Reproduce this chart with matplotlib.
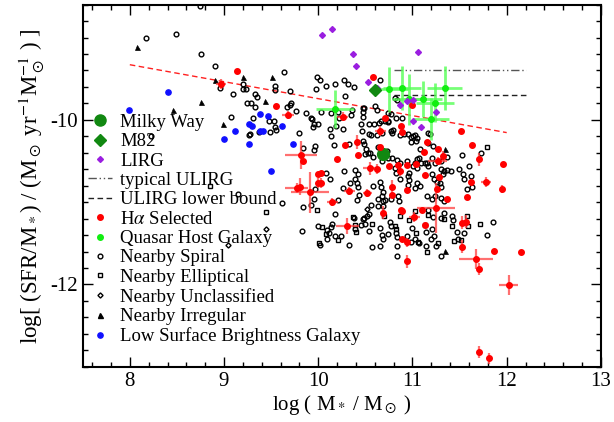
import matplotlib
matplotlib.use("Agg")
import matplotlib.pyplot as plt
from matplotlib.lines import Line2D
from matplotlib.ticker import MultipleLocator
import numpy as np

plt.rcParams['font.family'] = ['Liberation Serif', 'DejaVu Serif']
plt.rcParams['mathtext.fontset'] = 'stix'
plt.rcParams['axes.unicode_minus'] = False

# ---------------- data ----------------
mw_x, mw_y = [10.69], [-10.41]
m82_x, m82_y = [10.60], [-9.64]

lirg_x = [10.04, 10.15, 10.37, 10.40, 10.53, 10.62, 11.06, 10.87, 10.94, 11.01, 11.01, 11.09, 11.25]
lirg_y = [-8.97, -8.89, -9.20, -9.35, -9.54, -9.61, -9.17, -9.82, -9.77, -9.76, -10.01, -10.09, -9.91]

ulirg_typ_x = [10.8, 12.2]
ulirg_typ_y = [-9.40, -9.40]
ulirg_low_x = [10.8, 12.2]
ulirg_low_y = [-9.70, -9.70]

fit_x = [8.0, 12.0]
fit_y = [-9.33, -10.155]

ha_x = [9.14, 8.97, 9.55, 9.68, 10.26, 10.28, 10.58, 11.00, 11.52, 11.63, 10.65, 10.41, 10.71, 10.66,
        10.89, 10.88, 11.15, 11.12, 11.27, 11.32, 11.27, 9.84, 9.82, 10.20, 10.42, 10.55, 10.62, 10.75,
        10.85, 10.87, 10.94, 11.04, 10.00, 10.03, 10.00, 10.03, 9.91, 9.77, 9.81, 10.15, 10.33, 10.52,
        10.78, 10.78, 10.69, 10.88, 11.02, 11.25, 11.37, 11.26, 10.31, 11.13, 10.94, 10.89, 10.94, 10.94,
        11.28, 11.10, 11.13, 11.53, 11.57, 11.53, 11.67, 11.71, 11.58, 11.62, 11.71, 11.78, 11.95, 11.96,
        11.86, 12.15, 12.02, 11.71, 11.81, 10.89]
ha_y = [-9.41, -9.56, -9.83, -9.94, -9.96, -10.31, -9.48, -9.82, -10.14, -10.30, -10.33, -10.27, -9.98, -10.14,
        -10.15, -10.07, -10.27, -10.39, -10.35, -10.44, -10.50, -10.50, -10.43, -10.48, -10.43, -10.59, -10.60, -10.56,
        -10.55, -10.62, -10.55, -10.54, -10.66, -10.64, -10.77, -10.77, -10.88, -10.83, -10.81, -11.00, -10.86, -10.89,
        -10.81, -10.91, -11.13, -11.10, -11.18, -11.07, -10.96, -10.84, -11.29, -10.67, -10.85, -11.45, -11.49, -11.72,
        -10.69, -11.10, -11.28, -11.25, -11.24, -11.54, -11.69, -11.81, -10.94, -10.75, -10.48, -10.76, -10.84, -10.54,
        -11.59, -11.61, -12.01, -12.82, -12.90, -11.11]
ha_xerr = [0, 0.05, 0, 0.06, 0.06, 0, 0, 0, 0, 0, 0, 0, 0, 0.06,
           0, 0, 0, 0, 0, 0, 0.10, 0, 0.17, 0, 0, 0.07, 0, 0,
           0, 0, 0, 0, 0, 0, 0, 0, 0.20, 0.12, 0, 0.06, 0.06, 0.05,
           0, 0, 0, 0, 0.06, 0.20, 0, 0, 0.12, 0, 0, 0, 0, 0,
           0, 0, 0, 0, 0, 0, 0.18, 0, 0, 0, 0, 0.05, 0, 0,
           0, 0, 0.10, 0, 0, 0]
ha_yerr = [0, 0.06, 0, 0.05, 0.06, 0, 0, 0, 0, 0, 0, 0.08, 0, 0.06,
           0, 0, 0, 0, 0, 0.06, 0.05, 0, 0.17, 0, 0, 0.08, 0.06, 0,
           0, 0.06, 0, 0, 0, 0, 0.06, 0.06, 0.25, 0.06, 0.10, 0.05, 0.05, 0.05,
           0.08, 0, 0.08, 0, 0.06, 0.30, 0, 0, 0.10, 0, 0, 0, 0.06, 0.08,
           0, 0, 0, 0.08, 0.08, 0.08, 0.12, 0.07, 0, 0, 0.08, 0.06, 0.05, 0,
           0, 0, 0.12, 0.07, 0.07, 0]

qso_x = [10.18, 10.75, 10.89, 10.96, 11.11, 11.24, 11.34, 11.20]
qso_y = [-9.87, -9.63, -9.61, -9.75, -9.75, -9.79, -9.61, -9.99]
qso_xerr = [0.20, 0.20, 0.20, 0.18, 0.20, 0.20, 0.19, 0.19]
qso_yerr = [0.23, 0.27, 0.27, 0.31, 0.22, 0.24, 0.27, 0.26]

sp_x = [8.74, 8.17, 8.49, 8.76, 8.90, 9.64, 9.99, 10.27, 10.32, 10.08, 9.98, 10.28, 8.96, 9.20, 9.20, 9.23,
        9.10, 9.54, 9.54, 9.70, 9.33, 9.35, 9.24, 9.29, 9.33, 9.71, 9.67, 9.76, 9.87, 9.93, 10.03, 9.94,
        9.07, 9.48, 9.53, 9.54, 9.55, 9.27, 9.37, 9.49, 9.80, 10.19, 10.13, 10.22, 10.26, 10.21, 8.22, 10.33,
        9.31, 9.28, 9.70, 9.92, 9.95, 10.08, 10.12, 9.97, 9.95, 9.92, 9.84, 9.61, 10.00, 10.09, 10.11, 9.83,
        9.15, 10.17, 9.97, 9.84, 10.35, 10.45, 10.48, 10.49, 10.54, 10.59, 10.64, 10.67, 10.71, 10.74, 10.77,
        10.54, 10.56, 10.62, 10.68, 10.47, 10.49, 10.51, 10.50, 10.53, 10.55, 10.63, 10.58, 10.73, 10.74, 10.78,
        10.68, 10.39, 10.42, 10.27, 10.34, 10.39, 10.41, 10.42, 10.58, 10.65, 10.67, 10.69, 10.63, 10.68, 10.71,
        10.69, 10.47, 10.49, 10.52, 10.54, 10.56, 10.50, 10.45, 10.39, 10.66, 10.68, 10.69, 10.76, 10.77, 10.74,
        10.82, 10.84, 10.84, 10.77, 10.85, 10.86, 10.81, 10.83, 10.87, 10.84, 10.87, 10.94, 10.96, 10.95, 10.96,
        11.01, 11.03, 11.05, 11.09, 11.05, 11.07, 11.13, 11.15, 11.17, 10.95, 11.03, 11.05, 11.08, 11.01, 11.03,
        11.05, 11.04, 10.87, 10.91, 10.95, 10.98, 10.98, 11.08, 11.17, 11.17, 11.19, 11.22, 11.21, 11.24, 11.30,
        11.33, 11.32, 11.37, 11.21, 11.23, 11.26, 11.29, 11.30, 11.15, 11.21, 11.24, 11.30, 11.33, 11.17, 11.22,
        11.30, 11.33, 11.14, 11.21, 11.23, 11.20, 11.25, 11.14, 11.00, 10.94, 10.98, 11.03, 11.07, 10.65, 10.33,
        10.13, 10.09, 10.02, 10.18, 10.24, 10.15, 10.21, 10.43, 10.18, 10.38, 10.41, 11.85, 11.79, 11.73, 11.53,
        11.60, 11.62, 11.58, 11.63, 11.49, 11.54, 11.55, 11.47, 11.55, 11.41, 11.42, 11.43, 11.48, 11.30, 10.84,
        10.57, 10.54, 10.26, 10.69, 10.63, 11.30, 11.37, 10.18, 10.38, 10.12, 10.36, 10.48, 10.48, 10.46, 10.65,
        10.62, 10.60, 10.74, 10.77, 10.74, 10.82, 10.89, 10.81, 10.84, 10.79, 10.78, 10.13, 9.95, 10.00, 10.02]
sp_y = [-8.62, -9.00, -8.96, -9.20, -9.35, -9.42, -9.48, -9.51, -9.57, -9.59, -9.63, -9.71, -9.61, -9.56, -9.63, -9.63,
        -9.68, -9.59, -9.64, -9.65, -9.69, -9.72, -9.79, -9.79, -9.84, -9.80, -9.84, -9.89, -9.92, -9.99, -9.90, -10.09,
        -9.96, -10.01, -10.01, -10.09, -10.12, -10.18, -10.15, -10.15, -10.16, -10.07, -10.20, -9.98, -10.11, -9.90, -10.20, -10.29,
        -9.98, -10.17, -9.82, -9.98, -10.37, -10.64, -10.72, -10.84, -10.96, -11.04, -11.06, -11.01, -11.29, -11.34, -11.37, -11.35,
        -10.90, -10.30, -10.32, -10.34, -9.94, -10.05, -9.90, -9.85, -10.05, -10.05, -10.04, -10.01, -10.01, -10.03, -10.13,
        -10.17, -10.19, -10.18, -10.16, -10.26, -10.29, -10.35, -10.41, -10.40, -10.40, -10.33, -10.45, -10.38, -10.46, -10.46,
        -10.50, -10.61, -10.66, -10.62, -10.77, -10.72, -10.77, -10.81, -10.80, -10.76, -10.81, -10.88, -10.96, -10.93, -10.97,
        -11.05, -11.20, -11.19, -11.17, -11.15, -11.03, -11.27, -11.28, -11.33, -11.32, -11.40, -11.45, -11.24, -11.29, -11.39,
        -11.37, -11.42, -11.53, -10.96, -10.93, -10.99, -10.59, -10.64, -10.53, -10.49, -10.72, -10.50, -10.64, -10.68, -10.73,
        -10.56, -10.52, -10.58, -10.52, -10.48, -10.46, -10.53, -10.52, -10.56, -10.79, -10.83, -10.77, -10.80, -10.20, -10.18,
        -10.22, -10.26, -10.18, -10.17, -10.17, -10.21, -10.27, -10.35, -10.28, -10.16, -10.17, -10.32, -10.46, -10.52, -10.60,
        -10.62, -10.66, -10.61, -10.66, -10.72, -10.75, -10.77, -10.81, -10.93, -10.96, -10.93, -10.95, -10.99, -11.09, -11.18,
        -11.19, -11.13, -11.36, -11.33, -11.41, -11.45, -11.53, -11.53, -11.31, -11.41, -11.49, -11.45, -11.50, -11.53, -11.52,
        -11.30, -11.45, -11.52, -11.41, -11.41, -11.27, -10.97, -10.91, -11.15, -11.19, -10.97, -11.24, -11.40, -10.40, -10.43,
        -10.56, -10.68, -10.84, -10.81, -10.60, -10.66, -10.72, -11.36, -11.37, -10.62, -11.17, -11.22, -11.45, -11.65, -11.65,
        -11.55, -11.35, -10.83, -10.99, -11.05, -10.50, -10.45, -9.57, -9.60, -10.11, -9.88, -9.86, -9.96, -10.13, -9.52,
        -9.88, -9.83, -9.92, -9.93, -10.01, -9.98, -9.98, -9.73, -9.76, -10.12, -10.16, -9.92, -10.05, -10.05, -9.52]

el_x = [8.85, 9.45, 10.01, 9.99, 10.04, 10.08, 10.21, 10.37, 10.39, 10.40, 10.57, 10.70, 10.81, 10.83, 10.87,
        10.96, 11.03, 11.06, 11.15, 11.04, 11.13, 11.27, 11.33, 11.42, 11.44, 11.52, 11.58, 11.59, 11.72, 11.16, 11.79]
el_y = [-10.80, -11.12, -11.50, -11.10, -11.30, -11.39, -11.46, -11.18, -11.28, -11.36, -11.26, -11.17, -11.29, -11.33, -11.17,
        -11.22, -11.11, -11.49, -11.60, -11.38, -11.28, -11.50, -11.21, -11.29, -11.47, -11.46, -11.17, -11.29, -11.26, -11.16, -10.33]

un_x = [9.45, 9.04, 10.52]
un_y = [-11.33, -11.52, -11.08]

irr_x = [8.08, 8.46, 8.90, 8.76, 9.20, 9.51, 8.99, 9.44, 11.34, 11.35]
irr_y = [-9.11, -9.88, -9.51, -9.78, -9.48, -9.48, -10.05, -9.77, -10.36, -11.59]

lsb_x = [7.995, 8.40, 9.38, 9.47, 9.26, 9.30, 9.12, 9.00, 9.38, 9.41, 9.26, 9.61, 9.73, 9.50]
lsb_y = [-9.88, -9.66, -9.93, -9.95, -10.05, -10.08, -10.14, -10.23, -10.14, -10.14, -10.29, -10.07, -10.29, -10.62]

# ---------------- plot ----------------
fig = plt.figure(figsize=(6.14, 4.22), dpi=100)
ax = fig.add_axes([0.1347, 0.131, 0.844, 0.858])

ax.plot(fit_x, fit_y, color='#ff2020', ls=(0, (4, 2.5)), lw=1.0, zorder=2)
ax.plot(ulirg_typ_x, ulirg_typ_y, color='#555555', ls=(0, (6, 2, 1, 2, 1, 2)), lw=1.0, zorder=2)
ax.plot(ulirg_low_x, ulirg_low_y, color='#222222', ls=(0, (4, 2.5)), lw=1.0, zorder=2)

ax.plot(sp_x, sp_y, ls='none', marker='o', ms=3.4, mfc='none', mec='black', mew=1.0, zorder=3)
ax.plot(el_x, el_y, ls='none', marker='s', ms=3.2, mfc='none', mec='black', mew=1.0, zorder=3)
ax.plot(un_x, un_y, ls='none', marker='D', ms=2.6, mfc='none', mec='black', mew=1.0, zorder=3)
ax.plot(irr_x, irr_y, ls='none', marker='^', ms=3.6, mfc='black', mec='black', mew=0.5, zorder=3)
ax.plot(lsb_x, lsb_y, ls='none', marker='o', ms=3.8, mfc='#1010ff', mec='#1010ff', zorder=3)

ax.errorbar(ha_x, ha_y, xerr=ha_xerr, yerr=ha_yerr, fmt='none', ecolor='#ff4040', elinewidth=1.6,
            alpha=0.75, capsize=0, zorder=4)
ax.plot(ha_x, ha_y, ls='none', marker='o', ms=4.0, mfc='#ff0000', mec='#ff0000', zorder=5)

ax.errorbar(qso_x, qso_y, xerr=qso_xerr, yerr=qso_yerr, fmt='none', ecolor='#55ff55', elinewidth=2.0,
            alpha=0.8, capsize=0, zorder=4)
ax.plot(qso_x, qso_y, ls='none', marker='o', ms=4.0, mfc='#11ee11', mec='#11ee11', zorder=5)

ax.plot(lirg_x, lirg_y, ls='none', marker='D', ms=3.0, mfc='#9a1ee0', mec='#9a1ee0', zorder=5)
ax.plot(mw_x, mw_y, ls='none', marker='o', ms=8.5, mfc='#118811', mec='#118811', zorder=4)
ax.plot(m82_x, m82_y, ls='none', marker='D', ms=6.5, mfc='#118811', mec='#118811', zorder=6)

ax.set_xlim(7.5, 13.0)
ax.set_ylim(-13.0, -8.6)
ax.xaxis.set_major_locator(MultipleLocator(1))
ax.xaxis.set_minor_locator(MultipleLocator(0.2))
ax.yaxis.set_major_locator(MultipleLocator(2))
ax.yaxis.set_minor_locator(MultipleLocator(0.2))
ax.tick_params(which='both', direction='in', top=True, right=True, labelsize=15, width=1.0)
ax.tick_params(which='major', length=7)
ax.tick_params(which='minor', length=3.5)
for s in ax.spines.values():
    s.set_linewidth(1.5)

ax.set_xlabel(r'log ( M$_*$ / M$_\odot$ )', fontsize=15, labelpad=2)
ax.set_ylabel(r'log[ (SFR/M$_*$) / (M$_\odot$ yr$^{-1}$M$_\odot^{-1}$ ) ]', fontsize=16.5, labelpad=3)

handles = [
    Line2D([], [], ls='none', marker='o', ms=8, mfc='#118811', mec='#118811'),
    Line2D([], [], ls='none', marker='D', ms=6, mfc='#118811', mec='#118811'),
    Line2D([], [], ls='none', marker='D', ms=3, mfc='#9a1ee0', mec='#9a1ee0'),
    Line2D([], [], color='#555555', ls=(0, (6, 2, 1, 2, 1, 2)), lw=1.0),
    Line2D([], [], color='#222222', ls=(0, (4, 2.5)), lw=1.0),
    Line2D([], [], ls='none', marker='o', ms=4, mfc='#ff0000', mec='#ff0000'),
    Line2D([], [], ls='none', marker='o', ms=4, mfc='#11ee11', mec='#11ee11'),
    Line2D([], [], ls='none', marker='o', ms=3.4, mfc='none', mec='black', mew=1.0),
    Line2D([], [], ls='none', marker='s', ms=3.2, mfc='none', mec='black', mew=1.0),
    Line2D([], [], ls='none', marker='D', ms=2.6, mfc='none', mec='black', mew=1.0),
    Line2D([], [], ls='none', marker='^', ms=3.6, mfc='black', mec='black'),
    Line2D([], [], ls='none', marker='o', ms=3.8, mfc='#1010ff', mec='#1010ff'),
]
labels = ['Milky Way', 'M82', 'LIRG', 'typical ULIRG', 'ULIRG lower bound', r'H$\alpha$ Selected',
          'Quasar Host Galaxy', 'Nearby Spiral', 'Nearby Elliptical', 'Nearby Unclassified',
          'Nearby Irregular', 'Low Surface Brightness Galaxy']
ax.legend(handles, labels, loc='upper left', bbox_to_anchor=(-0.016, 0.735), frameon=False,
          fontsize=13.5, handlelength=1.3, handletextpad=0.45, labelspacing=0.12, borderpad=0.2)

fig.savefig('out.png', dpi=100)
